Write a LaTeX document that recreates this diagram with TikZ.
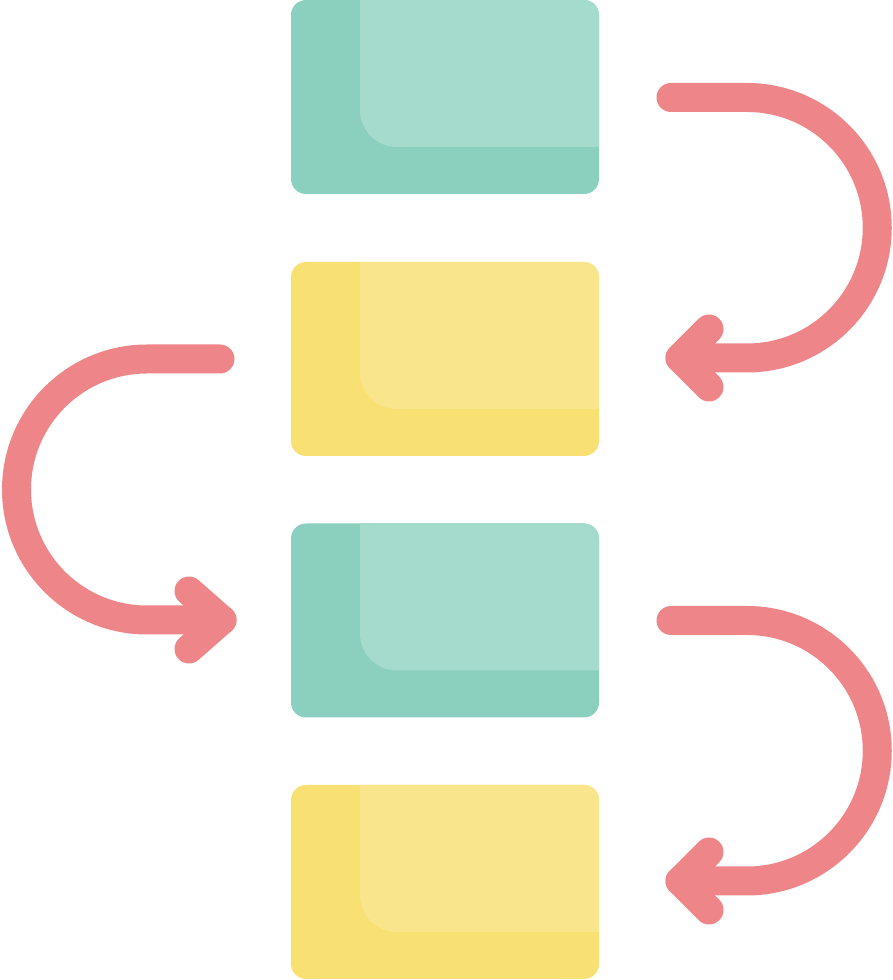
\documentclass[tikz,border=0pt]{standalone}
\definecolor{tealD}{HTML}{8BD0BE}
\definecolor{tealL}{HTML}{A5DBCD}
\definecolor{yelD}{HTML}{F9E073}
\definecolor{yelL}{HTML}{F9E68C}
\definecolor{pinkA}{HTML}{EE8689}
\begin{document}
\begin{tikzpicture}[x=1pt,y=1pt,
  card/.style 2 args={rectangle, fill=#1, rounded corners=15pt, minimum width=308pt, minimum height=194pt, inner sep=0pt,
    path picture={\fill[#2, rounded corners=37pt]
      ([shift={(69pt,60pt)}]path picture bounding box.north west) rectangle
      ([shift={(60pt,47pt)}]path picture bounding box.south east);}},
  flow/.style={draw=pinkA, line width=29pt, line cap=round, line join=round}]
\useasboundingbox (0,0) rectangle (892,980);
\node[card={tealD}{tealL}] (b1) at (445,883) {};
\node[card={yelD}{yelL}] (b2) at (445,621) {};
\node[card={tealD}{tealL}] (b3) at (445,359.5) {};
\node[card={yelD}{yelL}] (b4) at (445,98) {};
% arrow 1
\coordinate (a1s) at (671,882.5);
\coordinate (a1e) at (680,622);
\draw[flow] (a1s) -- (747,882.5) arc[start angle=90,end angle=-90,radius=130.25] -- (a1e);
\draw[flow] ([shift={(29,29)}]a1e) -- (a1e) -- ([shift={(29,-29)}]a1e);
% arrow 2
\coordinate (a2s) at (220,621);
\coordinate (a2e) at (222,360);
\draw[flow] (a2s) -- (147,621) arc[start angle=90,end angle=270,radius=130.5] -- (a2e);
\draw[flow] ([shift={(-33,29)}]a2e) -- (a2e) -- ([shift={(-33,-29)}]a2e);
% arrow 3
\coordinate (a3s) at (671,359.5);
\coordinate (a3e) at (680,99);
\draw[flow] (a3s) -- (747,359.5) arc[start angle=90,end angle=-90,radius=130.25] -- (a3e);
\draw[flow] ([shift={(29,29)}]a3e) -- (a3e) -- ([shift={(29,-29)}]a3e);
\end{tikzpicture}
\end{document}
